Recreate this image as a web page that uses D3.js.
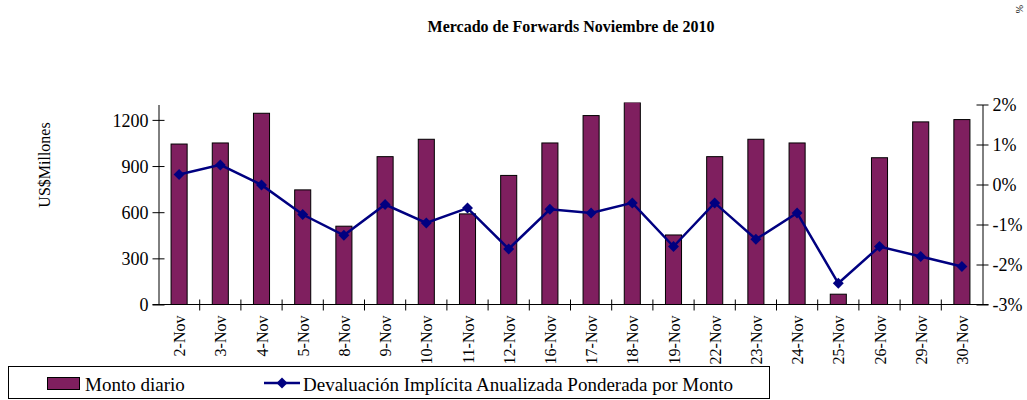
<!DOCTYPE html>
<html>
<head>
<meta charset="utf-8">
<script src="https://cdn.jsdelivr.net/npm/d3@7"></script>
<style>
  body { margin: 0; background: #fff; }
  svg { display: block; }
  text { font-family: "Liberation Serif", "Times New Roman", serif; fill: #000; }
</style>
</head>
<body>
<script>
// days of november 2010
var dias = ["2-Nov","3-Nov","4-Nov","5-Nov","8-Nov","9-Nov","10-Nov","11-Nov","12-Nov","16-Nov",
            "17-Nov","18-Nov","19-Nov","22-Nov","23-Nov","24-Nov","25-Nov","26-Nov","29-Nov","30-Nov"];
// daily amount, US$ millions
var monto = [1043,1050,1243,745,509,961,1074,589,839,1050,
             1228,1315,452,961,1074,1050,67,954,1187,1202];
// implied annualized devaluation, %
var devaluacion = [0.25,0.49,-0.01,-0.75,-1.27,-0.50,-0.96,-0.59,-1.61,-0.62,
                   -0.71,-0.46,-1.55,-0.46,-1.37,-0.71,-2.47,-1.55,-1.80,-2.05];
var ticksIzq = [0,300,600,900,1200];
var ticksDer = [-3,-2,-1,0,1,2];

var width = 1027, height = 400;
var pLeft = 158.5, pRight = 982.5, pTop = 104.5, pBottom = 304.5;

var svg = d3.select("body").append("svg")
  .attr("width", width)
  .attr("height", height);

// title
svg.append("text")
  .attr("x", 571).attr("y", 32)
  .attr("text-anchor", "middle")
  .style("font-size", "16px").style("font-weight", "bold")
  .text("Mercado de Forwards Noviembre de 2010");

svg.append("text")
  .attr("transform", "translate(1016,5) rotate(90)")
  .style("font-size", "10px")
  .text("%");

var x = d3.scaleBand().domain(dias).range([pLeft, pRight]).padding(0);
var yIzq = d3.scaleLinear().domain([0,1300]).range([pBottom, pTop]);
var yDer = d3.scaleLinear().domain([-3,2]).range([pBottom, pTop]);

svg.append("clipPath").attr("id", "plot")
  .append("rect").attr("x", pLeft).attr("y", pTop - 2).attr("width", pRight - pLeft).attr("height", pBottom - pTop + 2);

var barW = x.bandwidth() * 0.39;

// bars
svg.append("g").attr("clip-path", "url(#plot)")
  .selectAll("rect")
  .data(monto)
  .enter()
  .append("rect")
  .attr("x", (d, i) => x(dias[i]) + x.bandwidth() / 2 - barW / 2)
  .attr("y", d => yIzq(d))
  .attr("width", barW)
  .attr("height", d => pBottom - yIzq(d))
  .style("fill", "#7f1f5f")
  .style("stroke", "#000")
  .style("stroke-width", 1);

// left axis
var ejeIzq = svg.append("g")
  .attr("transform", "translate(" + pLeft + ",0)")
  .call(d3.axisLeft(yIzq).tickValues(ticksIzq).tickFormat(d3.format("d")).tickSizeInner(6).tickSizeOuter(0).tickPadding(4));
ejeIzq.selectAll(".tick line").attr("x2", 6).attr("x1", -6);

// right axis
var ejeDer = svg.append("g")
  .attr("transform", "translate(" + pRight + ",0)")
  .call(d3.axisRight(yDer).tickValues(ticksDer).tickFormat(d => d + "%").tickSizeInner(6).tickSizeOuter(0).tickPadding(4));
ejeDer.selectAll(".tick line").attr("x1", -6).attr("x2", 6);

[ejeIzq, ejeDer].forEach(function(g) {
  g.attr("font-family", "Liberation Serif");
  g.selectAll("text").style("font-size", "18px").attr("dy", "0.35em");
  g.select(".domain").attr("stroke", "#000");
});

// bottom axis line and ticks between categories
svg.append("line")
  .attr("x1", pLeft - 6).attr("x2", pRight + 6)
  .attr("y1", pBottom).attr("y2", pBottom)
  .attr("stroke", "#000");

svg.append("g").selectAll("line")
  .data(dias.slice(1))
  .enter()
  .append("line")
  .attr("x1", d => x(d)).attr("x2", d => x(d))
  .attr("y1", pBottom - 5).attr("y2", pBottom + 6)
  .attr("stroke", "#000");

// category labels
svg.append("g").selectAll("text")
  .data(dias)
  .enter()
  .append("text")
  .attr("transform", d => "translate(" + (x(d) + x.bandwidth() / 2 + 6) + "," + (pBottom + 11) + ") rotate(-90)")
  .attr("text-anchor", "end")
  .style("font-size", "16px")
  .text(d => d);

// y axis title
svg.append("text")
  .attr("transform", "translate(50,165) rotate(-90)")
  .attr("text-anchor", "middle")
  .style("font-size", "16px")
  .text("US$Millones");

// line
var linea = d3.line()
  .x((d, i) => x(dias[i]) + x.bandwidth() / 2)
  .y(d => yDer(d));

svg.append("path")
  .datum(devaluacion)
  .attr("d", linea)
  .attr("fill", "none")
  .attr("stroke", "#000080")
  .attr("stroke-width", 2.5);

var rombo = d3.symbol().type(d3.symbolSquare).size(60);
svg.append("g").selectAll("path")
  .data(devaluacion)
  .enter()
  .append("path")
  .attr("d", rombo)
  .attr("transform", (d, i) => "translate(" + (x(dias[i]) + x.bandwidth() / 2) + "," + yDer(d) + ") rotate(45)")
  .attr("fill", "#000080");

// legend
var ley = svg.append("g");
ley.append("rect")
  .attr("x", 8.5).attr("y", 366.5).attr("width", 761).attr("height", 32)
  .attr("fill", "#fff").attr("stroke", "#000");
ley.append("rect")
  .attr("x", 47.5).attr("y", 377.5).attr("width", 32).attr("height", 12)
  .attr("fill", "#7f1f5f").attr("stroke", "#000");
ley.append("text").attr("x", 85).attr("y", 390.5).style("font-size", "19px").text("Monto diario");
ley.append("line")
  .attr("x1", 264).attr("x2", 300).attr("y1", 383).attr("y2", 383)
  .attr("stroke", "#000080").attr("stroke-width", 2.5);
ley.append("path")
  .attr("d", rombo)
  .attr("transform", "translate(282,383) rotate(45)")
  .attr("fill", "#000080");
ley.append("text").attr("x", 303).attr("y", 390.5).style("font-size", "19px")
  .text("Devaluación Implícita Anualizada Ponderada por Monto");
</script>
</body>
</html>
